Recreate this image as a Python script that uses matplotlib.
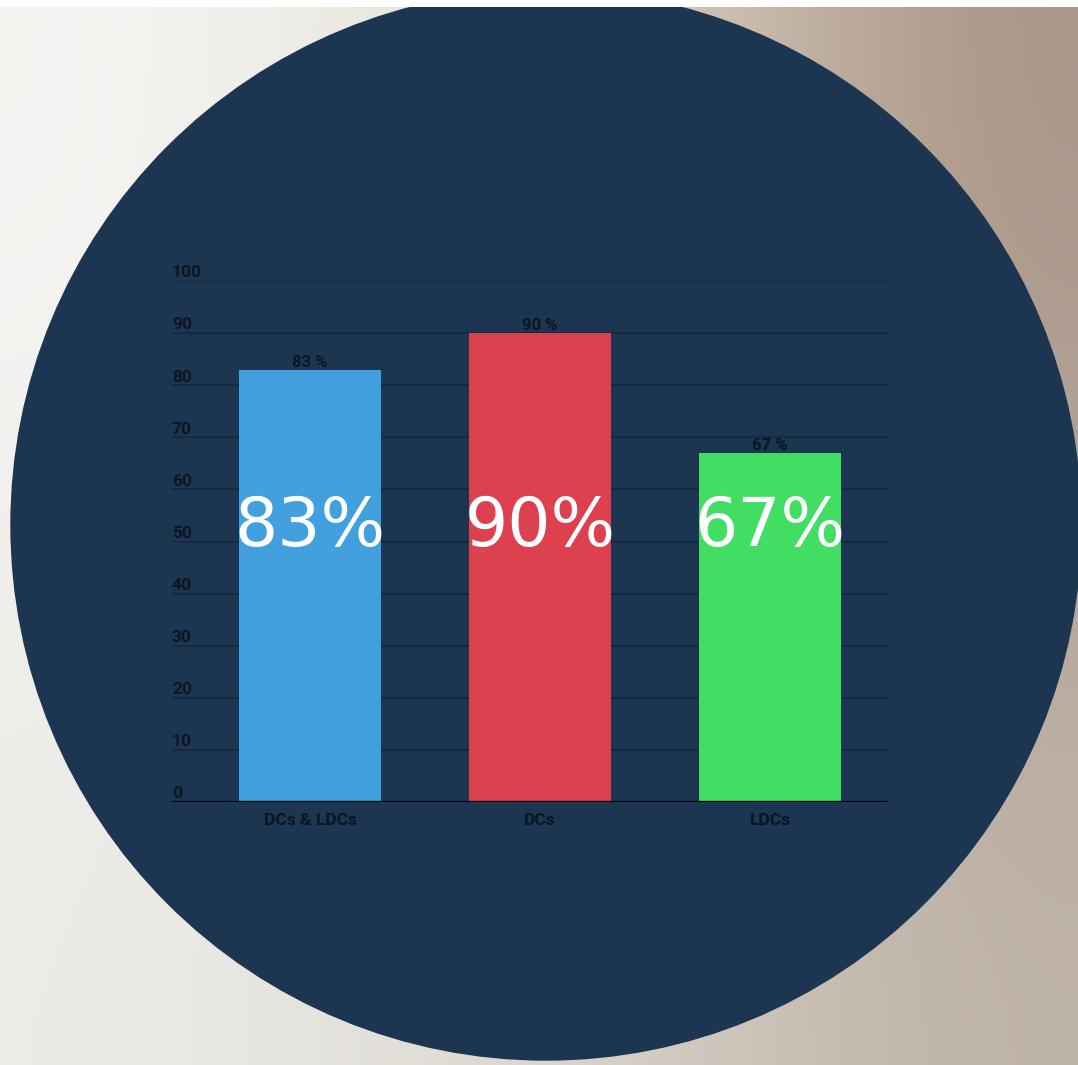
import numpy as np
import matplotlib.pyplot as plt
from matplotlib.patches import Circle, Rectangle
from matplotlib.colors import to_rgb

categories = ["DCs & LDCs", "DCs", "LDCs"]
values = [83, 90, 67]
bar_colors = ["#42a0de", "#dd414f", "#42de63"]
yticks = [0, 10, 20, 30, 40, 50, 60, 70, 80, 90, 100]

W, H = 1078, 1065
fig = plt.figure(figsize=(W / 100, H / 100), dpi=100)

# background gradient + navy disc (white strip along the top edge)
bg = fig.add_axes([0, 0, 1, 1])
top = ["#f6f5f3", "#eeece6", "#e2ddd0", "#c9b9aa", "#a99588"]
bot = ["#ecebe7", "#e5e3de", "#dcd7cf", "#cbc2b8", "#bfb4aa"]
grad = np.array([[to_rgb(c) for c in top], [to_rgb(c) for c in bot]])
bg.imshow(grad, extent=[0, W, H, 7], aspect="auto", interpolation="bicubic")
disc = Circle((546, 525), 535, color="#1c3550", zorder=2)
bg.add_patch(disc)
clip = Rectangle((0, 7), W, H - 7, transform=bg.transData)
disc.set_clip_path(clip)
bg.set_xlim(0, W)
bg.set_ylim(H, 0)
bg.axis("off")

# chart
ax = fig.add_axes([172 / W, 1 - 802 / H, 716 / W, 521 / H])
ax.patch.set_alpha(0)
x = np.arange(len(categories))
ax.bar(x, values, width=0.617, color=bar_colors, zorder=3)
ax.set_xlim(-0.6, 2.513)
ax.set_ylim(0, 100)

for v in yticks[1:]:
    ax.axhline(v, color="#14293f", lw=1.4, zorder=1)
ax.axhline(0, color="#05080c", lw=2.4, zorder=4)
dark = "#0c1520"
for v in yticks:
    ax.annotate(str(v), (0, v), xycoords=("axes fraction", "data"),
                xytext=(0, 0.5), textcoords="offset points", ha="left",
                va="bottom", fontsize=12.5, color=dark,
                family="Roboto", weight="bold")

for xi, v in zip(x, values):
    ax.annotate(f"{v} %", (xi, v), xytext=(0, 0), textcoords="offset points",
                ha="center", va="bottom", fontsize=12, color=dark,
                family="Roboto", weight="bold")
    ax.text(xi, 49.1, f"{v}%", ha="center", va="baseline", fontsize=49,
            color="white", family="DejaVu Sans", zorder=5)
    ax.annotate(categories[xi], (xi, 0), xytext=(0, -8),
                textcoords="offset points", ha="center", va="top",
                fontsize=12.5, color=dark, family="Roboto", weight="bold")

for s in ax.spines.values():
    s.set_visible(False)
ax.set_xticks([])
ax.set_yticks([])

fig.savefig("out.png", dpi=100, facecolor="white")
